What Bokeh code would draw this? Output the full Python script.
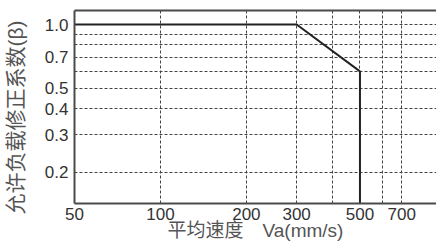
from bokeh.plotting import figure
from bokeh.models import FixedTicker, LogAxis, PrintfTickFormatter, Range1d
from bokeh.embed import file_html
from bokeh.resources import INLINE

# data
speed = [50, 300, 500, 500]
beta = [1.0, 1.0, 0.6, 0.1]

x_tick_values = [50, 100, 200, 300, 500, 700]
x_grid_values = [100, 200, 300, 400, 500, 600, 700]
y_tick_values = [0.2, 0.3, 0.4, 0.5, 0.7, 1.0]
y_grid_values = [0.2, 0.3, 0.4, 0.5, 0.6, 0.7, 0.8, 0.9, 1.0]

x_label = "平均速度　Va(mm/s)"
y_label = "允许负载修正系数(β)　"

p = figure(width=436, height=243, x_axis_type="log", y_axis_type="log",
           x_range=Range1d(50, 927), y_range=Range1d(0.1422, 1.165),
           output_backend="svg", toolbar_location=None,
           min_border_left=72, min_border_right=0, min_border_top=10,
           min_border_bottom=40)
p.outline_line_color = None
p.background_fill_color = "white"
p.border_fill_color = "white"

p.line(speed, beta, line_color="#222222", line_width=2)

tick_font = "Liberation Sans"
label_font = "Liberation Sans, Noto Sans CJK SC"

for ax in (p.xaxis[0], p.yaxis[0]):
    ax.axis_line_color = "#4a4a4a"
    ax.axis_line_width = 2
    ax.major_tick_line_color = None
    ax.minor_tick_line_color = None
    ax.major_tick_out = 0
    ax.major_tick_in = 0
    ax.minor_tick_out = 0
    ax.minor_tick_in = 0
    ax.major_label_text_font = tick_font
    ax.major_label_text_font_size = "17px"
    ax.major_label_text_color = "#333333"
    ax.axis_label_text_font = label_font
    ax.axis_label_text_font_style = "normal"
    ax.axis_label_text_color = "#555555"

p.xaxis[0].ticker = FixedTicker(ticks=x_tick_values)
p.xaxis[0].formatter = PrintfTickFormatter(format="%d")
p.xaxis[0].major_label_standoff = 4
p.xaxis[0].axis_label = x_label
p.xaxis[0].axis_label_text_font_size = "19px"
p.xaxis[0].axis_label_standoff = -3

p.yaxis[0].ticker = FixedTicker(ticks=y_tick_values)
p.yaxis[0].formatter = PrintfTickFormatter(format="%.1f")
p.yaxis[0].major_label_standoff = 6
p.yaxis[0].axis_label = y_label
p.yaxis[0].axis_label_text_font_size = "21px"
p.yaxis[0].axis_label_standoff = 15

top = LogAxis(ticker=FixedTicker(ticks=[]), axis_line_color="#4a4a4a",
              axis_line_width=2, major_tick_line_color=None,
              minor_tick_line_color=None, major_tick_out=0, major_tick_in=0,
              minor_tick_out=0, minor_tick_in=0,
              major_label_standoff=0, major_label_text_font_size="0px")
p.add_layout(top, "above")

p.xgrid.ticker = FixedTicker(ticks=x_grid_values)
p.ygrid.ticker = FixedTicker(ticks=y_grid_values)
for g in (p.xgrid[0], p.ygrid[0]):
    g.grid_line_color = "#444444"
    g.grid_line_width = 1
    g.grid_line_dash = "3 2"

open("out.html", "w").write(file_html(p, INLINE))
